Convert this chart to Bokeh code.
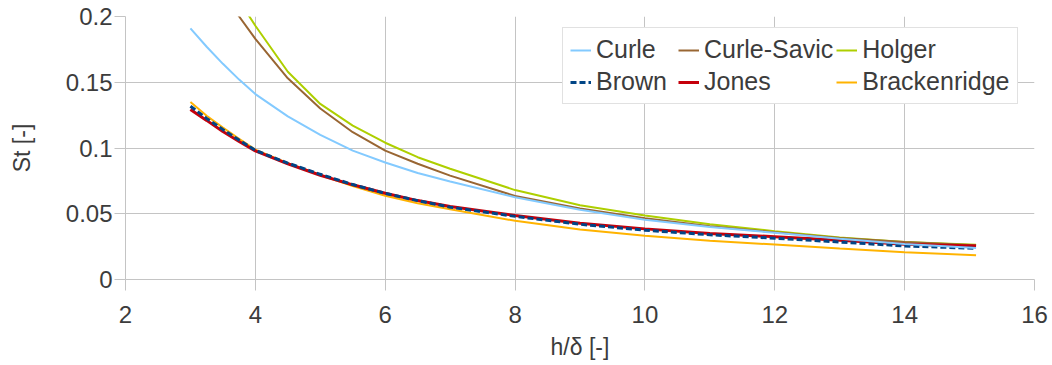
from bokeh.plotting import figure
from bokeh.models import Range1d, FixedTicker, Legend, LegendItem
from bokeh.embed import file_html
from bokeh.resources import INLINE

# ---- data ----
x_all = [3.0, 3.25, 3.5, 3.75, 4.0, 4.5, 5.0, 5.5, 6.0, 6.5, 7.0, 8.0, 9.0, 10.0, 11.0, 12.0, 13.0, 14.0, 15.1]
x_hi = [3.5, 3.75, 4.0, 4.5, 5.0, 5.5, 6.0, 6.5, 7.0, 8.0, 9.0, 10.0, 11.0, 12.0, 13.0, 14.0, 15.1]

curle = [0.191, 0.177, 0.164, 0.152, 0.141, 0.124, 0.110, 0.098, 0.089, 0.081, 0.0745, 0.0625, 0.053, 0.0455, 0.040, 0.0355, 0.031, 0.027, 0.024]
curle_savic = [0.219, 0.200, 0.183, 0.153, 0.130, 0.112, 0.098, 0.088, 0.079, 0.0635, 0.054, 0.0465, 0.0405, 0.036, 0.0315, 0.0285, 0.026]
holger = [0.235, 0.212, 0.193, 0.158, 0.1335, 0.117, 0.104, 0.093, 0.0842, 0.068, 0.0565, 0.0487, 0.042, 0.0367, 0.032, 0.0285, 0.0265]
brown = [0.1318, 0.1225, 0.114, 0.106, 0.0982, 0.0885, 0.080, 0.0722, 0.0655, 0.060, 0.055, 0.048, 0.042, 0.0375, 0.034, 0.0314, 0.0285, 0.0255, 0.0237]
jones = [0.1293, 0.121, 0.1125, 0.105, 0.0978, 0.088, 0.0793, 0.072, 0.0656, 0.060, 0.0555, 0.0487, 0.0428, 0.0385, 0.035, 0.0325, 0.0298, 0.0268, 0.0255]
brackenridge = [0.1349, 0.1245, 0.1155, 0.107, 0.0988, 0.0885, 0.0795, 0.071, 0.0637, 0.058, 0.0535, 0.0446, 0.038, 0.0333, 0.0295, 0.0266, 0.0235, 0.0208, 0.0185]

x_ticks = [2, 4, 6, 8, 10, 12, 14, 16]
y_ticks = [0, 0.05, 0.1, 0.15, 0.2]
y_tick_labels = ["0", "0.05", "0.1", "0.15", "0.2"]

FONT = "Liberation Sans"
TXT = "#3c3c3c"
GRID = "#c4c4c4"

p = figure(width=1050, height=363, output_backend="svg", toolbar_location=None,
           x_range=Range1d(2, 16), y_range=Range1d(0, 0.2),
           min_border_left=125, min_border_right=16, min_border_top=16, min_border_bottom=84)
p.outline_line_color = None
p.background_fill_color = "white"

for ax in (p.xaxis[0], p.yaxis[0]):
    ax.axis_line_color = GRID
    ax.major_tick_line_color = GRID
    ax.major_tick_out = 11
    ax.major_tick_in = 0
    ax.minor_tick_line_color = None
    ax.major_label_text_font = FONT
    ax.major_label_text_font_size = "24px"
    ax.major_label_text_color = TXT
    ax.axis_label_text_font = FONT
    ax.axis_label_text_font_size = "23px"
    ax.axis_label_text_font_style = "normal"
    ax.axis_label_text_color = TXT

p.xaxis.ticker = FixedTicker(ticks=x_ticks)
p.yaxis.ticker = FixedTicker(ticks=y_ticks)
p.yaxis.major_label_overrides = {t: l for t, l in zip(y_ticks, y_tick_labels)}
p.xaxis.axis_label = "h/δ [-]"
p.yaxis.axis_label = "St [-]"
p.xaxis.major_label_standoff = 15
p.yaxis.major_label_standoff = 2
p.xaxis.axis_label_standoff = 8
p.yaxis.axis_label_standoff = 28

p.xgrid.ticker = FixedTicker(ticks=x_ticks)
p.ygrid.ticker = FixedTicker(ticks=y_ticks)
p.grid.grid_line_color = GRID
p.grid.grid_line_width = 1

r_holger = p.line(x_hi, holger, line_color="#aecf00", line_width=2)
r_savic = p.line(x_hi, curle_savic, line_color="#996633", line_width=2)
r_brack = p.line(x_all, brackenridge, line_color="#ffb300", line_width=2)
r_jones = p.line(x_all, jones, line_color="#c5000b", line_width=3)
r_brown = p.line(x_all, brown, line_color="#004586", line_width=3, line_dash="6 3")
r_curle = p.line(x_all, curle, line_color="#83caff", line_width=2)

legend = Legend(items=[
    LegendItem(label="Curle", renderers=[r_curle]),
    LegendItem(label="Curle-Savic", renderers=[r_savic]),
    LegendItem(label="Holger", renderers=[r_holger]),
    LegendItem(label="Brown", renderers=[r_brown]),
    LegendItem(label="Jones", renderers=[r_jones]),
    LegendItem(label="Brackenridge", renderers=[r_brack]),
], location=(437, 175), orientation="horizontal", ncols=3)
legend.label_text_font = FONT
legend.label_text_font_size = "25px"
legend.label_text_color = TXT
legend.glyph_width = 21
legend.glyph_height = 20
legend.label_height = 27
legend.label_width = 79
legend.label_standoff = 5
legend.spacing = 3
legend.padding = 7
legend.margin = 0
legend.border_line_color = GRID
legend.border_line_width = 1
legend.background_fill_color = "white"
legend.background_fill_alpha = 1
p.add_layout(legend, "center")

open("out.html", "w").write(file_html(p, INLINE))
